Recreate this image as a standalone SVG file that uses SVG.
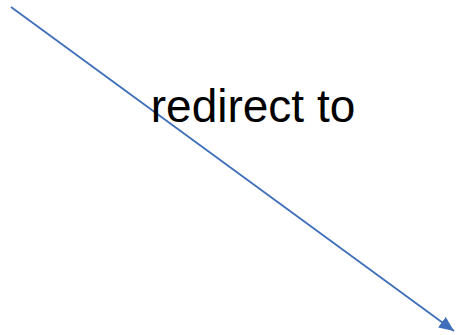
<svg xmlns="http://www.w3.org/2000/svg" width="456" height="335" viewBox="0 0 456 335">
<style>
.conn{stroke:#3F6FBA;stroke-width:1.8;fill:none}
.lbl{font-family:"Liberation Sans",Arial,sans-serif;font-size:46px;fill:#000}
</style>
<defs>
<marker id="arr" markerWidth="15" markerHeight="13" refX="15" refY="6.5" orient="auto" markerUnits="userSpaceOnUse" viewBox="0 0 15 13">
<path d="M0,0 L15,6.5 L0,13 z" fill="#3F6FBA"/>
</marker>
</defs>
<rect width="456" height="335" fill="#fff"/>
<g id="connectors">
<line class="conn" x1="11" y1="7" x2="454" y2="331" marker-end="url(#arr)"/>
</g>
<g id="label">
<text class="lbl" x="253" y="122" text-anchor="middle">redirect to</text>
</g>
</svg>
